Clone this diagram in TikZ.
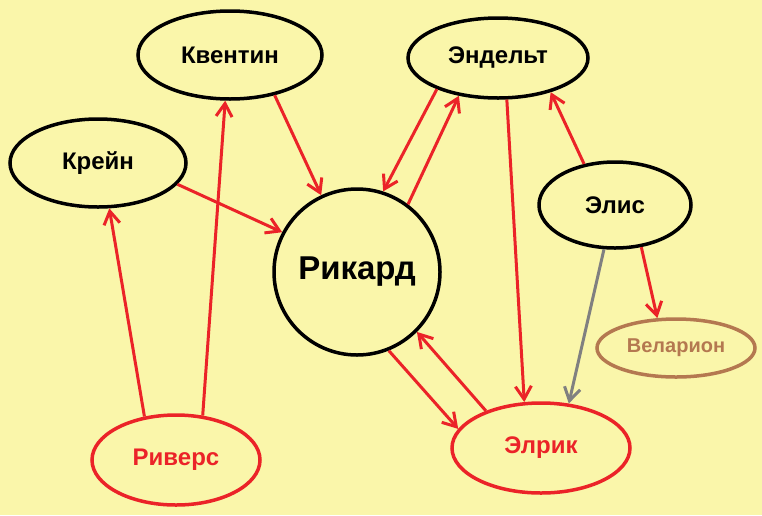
\documentclass[tikz,border=0pt]{standalone}
\usepackage{fontspec}
\setmainfont{Liberation Sans}
\usetikzlibrary{arrows.meta,shapes.geometric}
\definecolor{bgyellow}{RGB}{250,246,170}
\definecolor{linkred}{RGB}{235,35,40}
\definecolor{velbrown}{RGB}{180,120,80}

\tikzset{
  person/.style={ellipse, draw=black, line width=3.5pt, font=\bfseries\fontsize{24}{28}\selectfont, inner sep=0pt},
  link/.style={draw=linkred, line width=3pt, -{Straight Barb[length=13pt,width=16pt,line width=3pt]}},
}

\begin{document}
\begin{tikzpicture}[x=1pt,y=-1pt]

\fill[bgyellow] (0,0) rectangle (762,515);
\useasboundingbox (0,0) rectangle (762,515);

% People
\node[person, minimum width=184pt, minimum height=88pt] (kvn) at (230,55) {Квентин};
\node[person, minimum width=176pt, minimum height=88pt] (krn) at (98,163) {Крейн};
\node[person, minimum width=180pt, minimum height=80pt] (end) at (498,58) {Эндельт};
\node[person, minimum width=152pt, minimum height=86pt] (els) at (615,205) {Элис};
\node[circle, draw=black, line width=3.5pt, minimum size=166pt, font=\bfseries\fontsize{33}{38}\selectfont] (rik) at (357,272) {Рикард};
\node[person, draw=velbrown, text=velbrown, minimum width=158pt, minimum height=58pt, font=\bfseries\fontsize{20}{24}\selectfont] (vel) at (676,348) {Веларион};
\node[person, draw=linkred, text=linkred, minimum width=168pt, minimum height=90pt] (riv) at (176,460) {Риверс};
\node[person, draw=linkred, text=linkred, minimum width=178pt, minimum height=90pt] (elr) at (541,448) {Элрик};

% Links
\draw[link] (riv.126) -- (krn.284);
\draw[link] (riv.59) -- (kvn.264);
\draw[link] (kvn.318) -- (rik.115);
\draw[link] (krn.345) -- (rik.152);
\draw[link] (end.207) -- (rik.72);
\draw[link] (rik.53) -- (end.224);
\draw[link] (end.282) -- (elr.110);
\draw[link] (els.127) -- (end.327);
\draw[link] (els.302) -- (vel.122);
\draw[link, draw=gray] (els.256) -- (elr.58);
\draw[link] (rik.292) -- (elr.167);
\draw[link] (elr.146) -- (rik.315);

\end{tikzpicture}
\end{document}
